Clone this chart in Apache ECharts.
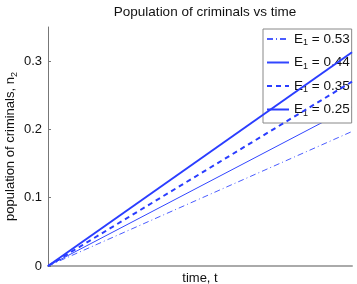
<!DOCTYPE html>
<html><head><meta charset="utf-8">
<script src="https://cdn.jsdelivr.net/npm/echarts@6/dist/echarts.min.js"></script>
<style>html,body{margin:0;padding:0;background:#fff}#c{width:357px;height:284px}</style>
</head><body><div id="c"></div>
<script>
var seriesNames = ['E1 = 0.53', 'E1 = 0.44', 'E1 = 0.35', 'E1 = 0.25'];
var timeValues = [0, 1];
var valuesE053 = [0, 0.197];
var valuesE044 = [0, 0.233];
var valuesE035 = [0, 0.270];
var valuesE025 = [0, 0.313];
var yTicks = [0, 0.1, 0.2, 0.3];
var allValues = [valuesE053, valuesE044, valuesE035, valuesE025];

var styles = [
  {width: 1, type: [6, 3, 1, 3], color: '#4a5cff'},
  {width: 1, type: 'solid', color: '#3246ff'},
  {width: 2, type: [5, 4], color: '#2a3dff'},
  {width: 2, type: 'solid', color: '#2a3dff'}
];
var font = 'Liberation Sans, Arial, sans-serif';
var chart = echarts.init(document.getElementById('c'), null, {renderer: 'canvas'});
chart.setOption({
  animation: false,
  title: {text: 'Population of criminals vs time', left: 200, top: 0, textAlign: 'center',
    textStyle: {fontFamily: font, fontSize: 13.5, fontWeight: 'normal', color: '#111'}},
  grid: {left: 48, right: 5, top: 27, bottom: 18, containLabel: false, outerBoundsMode: 'none'},
  legend: {
    orient: 'vertical', left: 263, top: 29, width: 86,
    backgroundColor: '#fff', borderColor: '#888', borderWidth: 1,
    padding: [3, 2, 5, 3], itemGap: 8, itemWidth: 22, itemHeight: 14,
    itemStyle: {opacity: 0},
    data: seriesNames,
    formatter: function (n) { return '{a|E}{s|1}{a|' + n.slice(2) + '}'; },
    textStyle: {fontFamily: font, fontSize: 13, color: '#111',
      rich: {a: {fontFamily: font, fontSize: 13.5, color: '#111'},
             s: {fontFamily: font, fontSize: 9, color: '#111', verticalAlign: 'bottom', padding: [8, 0, 0, 0]}}}
  },
  xAxis: {type: 'value', min: 0, max: 1, name: 'time, t', nameLocation: 'middle', nameGap: 6,
    nameMoveOverlap: false,
    nameTextStyle: {fontFamily: font, fontSize: 13, color: '#111'},
    axisLine: {lineStyle: {color: '#aaa', width: 2}}, axisTick: {show: false}, axisLabel: {show: false},
    splitLine: {show: false}},
  yAxis: {type: 'value', min: 0, max: 0.35, name: '{a|population of criminals, n}{s|2}',
    nameLocation: 'middle', nameGap: 29, nameRotate: 90, nameMoveOverlap: false,
    nameTextStyle: {fontFamily: font, fontSize: 13, color: '#111',
      rich: {a: {fontFamily: font, fontSize: 13, color: '#111'},
             s: {fontFamily: font, fontSize: 9, color: '#111', verticalAlign: 'bottom', padding: [8, 0, 0, 0]}}},
    axisLine: {show: true, lineStyle: {color: '#777', width: 1}},
    axisTick: {show: true, inside: true, length: 3, lineStyle: {color: '#777'}, customValues: yTicks},
    axisLabel: {fontFamily: font, fontSize: 13, color: '#111', margin: 6, customValues: yTicks,
      formatter: function (v) { return String(Math.round(v * 10) / 10); }},
    splitLine: {show: false}},
  series: seriesNames.map(function (n, i) {
    return {name: n, type: 'line', symbol: 'none', clip: false,
      data: timeValues.map(function (t, k) { return [t, allValues[i][k]]; }),
      lineStyle: styles[i], itemStyle: {color: styles[i].color}, z: 2 + i};
  })
});
</script></body></html>
